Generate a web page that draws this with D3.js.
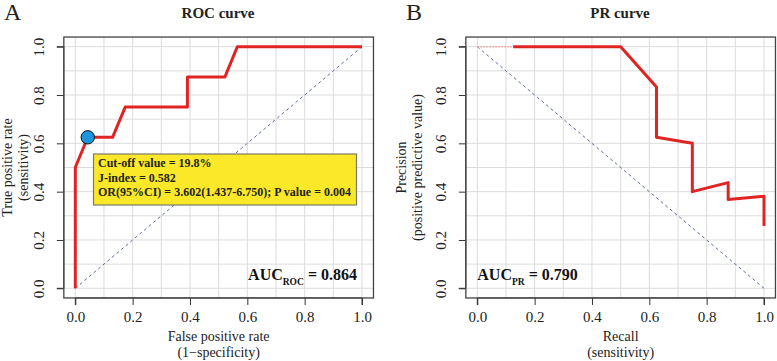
<!DOCTYPE html>
<html><head><meta charset="utf-8">
<script src="https://cdn.jsdelivr.net/npm/d3@7"></script>
<style>
body{margin:0;background:#fff;}
text{font-family:"Liberation Serif","Times New Roman",serif;}
</style></head>
<body><svg id="c" width="777" height="361"></svg>
<script>
// ROC curve data
const rocFPR = [0, 0, 0.0435, 0.130, 0.174, 0.391, 0.391, 0.522, 0.565, 1.0];
const rocTPR = [0, 0.5, 0.625, 0.625, 0.75, 0.75, 0.875, 0.875, 1.0, 1.0];
const cutoffPoint = [0.0435, 0.625];
const cutoffLines = ["Cut-off value = 19.8%", "J-index = 0.582", "OR(95%CI) = 3.602(1.437-6.750); P value = 0.004"];
// PR curve data
const prRecall = [0.125, 0.5, 0.625, 0.625, 0.75, 0.75, 0.875, 0.875, 1.0, 1.0];
const prPrecision = [1.0, 1.0, 0.833, 0.625, 0.6, 0.4, 0.4375, 0.368, 0.381, 0.258];
const axisTicks = [0, 0.2, 0.4, 0.6, 0.8, 1.0];
const gridTicks = [0,0.1,0.2,0.3,0.4,0.5,0.6,0.7,0.8,0.9,1.0];
const aucROC = "0.864", aucPR = "0.790";

const svg = d3.select("#c");
const RED = "#e02424", DIAG = "#5b6c9c";

function panel(ox, opts){
  const x = d3.scaleLinear().domain([0,1]).range([ox+75.3, ox+362]);
  const y = d3.scaleLinear().domain([0,1]).range([288.3, 46.7]);
  const g = svg.append("g");
  const x0 = x(-0.04), x1 = x(1.04), y0 = y(-0.04), y1 = y(1.04);
  // grid
  g.selectAll(".gv").data(gridTicks).enter().append("line")
    .attr("x1", d=>x(d)).attr("x2", d=>x(d)).attr("y1", y0).attr("y2", y1)
    .attr("stroke", "#dcdcdc").attr("stroke-width", 1);
  g.selectAll(".gh").data(gridTicks).enter().append("line")
    .attr("y1", d=>y(d)).attr("y2", d=>y(d)).attr("x1", x0).attr("x2", x1)
    .attr("stroke", "#dcdcdc").attr("stroke-width", 1);
  // axes
  const xa = d3.axisBottom(x).tickValues(axisTicks).tickFormat(d3.format(".1f")).tickSize(7).tickPadding(6);
  const xg = g.append("g").attr("transform", `translate(0,${y0})`).call(xa);
  xg.select(".domain").attr("d", `M${x(0)},7V0H${x(1)}V7`).attr("stroke","#333");
  xg.selectAll(".tick line").attr("stroke","#333");
  xg.selectAll("text").attr("font-size", 15).attr("fill","#222").attr("font-family","Liberation Serif");
  const ya = d3.axisLeft(y).tickValues(axisTicks).tickFormat(d3.format(".1f")).tickSize(7).tickPadding(0);
  const yg = g.append("g").attr("transform", `translate(${x0},0)`).call(ya);
  yg.select(".domain").attr("d", `M-7,${y(0)}H0V${y(1)}H-7`).attr("stroke","#333");
  yg.selectAll(".tick line").attr("stroke","#333");
  yg.selectAll(".tick text").attr("font-size", 15).attr("fill","#222").attr("font-family","Liberation Serif")
    .attr("text-anchor","middle").attr("x", 0).attr("dy","0.35em")
    .attr("transform", `translate(${ox+39 - x0},0) rotate(-90)`);
  // box
  g.append("rect").attr("x", x0).attr("y", y1).attr("width", x1-x0).attr("height", y0-y1)
    .attr("fill","none").attr("stroke","#444").attr("stroke-width",1.3);
  // titles
  svg.append("text").attr("x", ox+218).attr("y", 18).attr("text-anchor","middle")
    .attr("font-weight","bold").attr("font-size",15).attr("fill","#222").text(opts.title);
  svg.append("text").attr("x", ox+4).attr("y", 20).attr("font-size",24).attr("fill","#222").text(opts.letter);
  svg.append("text").attr("x", (x(0)+x(1))/2).attr("y", 341).attr("text-anchor","middle")
    .attr("font-size",14).attr("fill","#222").text(opts.xlab1);
  svg.append("text").attr("x", (x(0)+x(1))/2).attr("y", 357).attr("text-anchor","middle")
    .attr("font-size",14).attr("fill","#222").text(opts.xlab2);
  const cy = (y(0)+y(1))/2;
  svg.append("text").attr("transform", `translate(${ox+opts.ylx1},${cy}) rotate(-90)`).attr("text-anchor","middle")
    .attr("font-size",14).attr("fill","#222").text(opts.ylab1);
  svg.append("text").attr("transform", `translate(${ox+opts.ylx2},${cy}) rotate(-90)`).attr("text-anchor","middle")
    .attr("font-size",14).attr("fill","#222").text(opts.ylab2);
  return {x, y, g};
}

// Panel A
const A = panel(0, {title:"ROC curve", letter:"A", xlab1:"False positive rate", xlab2:"(1\u2212specificity)",
  ylab1:"True positive rate", ylab2:"(sensitivity)", ylx1:12, ylx2:28});
A.g.append("line").attr("x1",A.x(0)).attr("y1",A.y(0)).attr("x2",A.x(1)).attr("y2",A.y(1))
  .attr("stroke",DIAG).attr("stroke-width",1).attr("stroke-dasharray","3,3");
A.g.append("path").datum(rocFPR.map((d,i)=>[d,rocTPR[i]]))
  .attr("d", d3.line().x(d=>A.x(d[0])).y(d=>A.y(d[1])))
  .attr("fill","none").attr("stroke",RED).attr("stroke-width",3).attr("stroke-linejoin","round");
A.g.append("circle").attr("cx",A.x(cutoffPoint[0])).attr("cy",A.y(cutoffPoint[1])).attr("r",6.7)
  .attr("fill","#1b95dc").attr("stroke","#111").attr("stroke-width",1);
A.g.append("rect").attr("x",93.5).attr("y",154).attr("width",263).attr("height",51)
  .attr("fill","#fbe829").attr("stroke","#7a7a6a").attr("stroke-width",1.2);
cutoffLines.forEach((t,i)=>{
  A.g.append("text").attr("x",98).attr("y",167+i*14.5).attr("font-size",12).attr("font-weight","bold")
    .attr("fill","#222").text(t);
});
function auc(g, xpos, label, val, anchor){
  const t = g.append("text").attr("x",xpos).attr("y",280).attr("font-weight","bold").attr("font-size",16)
    .attr("fill","#111").attr("text-anchor",anchor);
  t.append("tspan").text("AUC");
  t.append("tspan").attr("font-size",9.5).attr("dy",4.5).text(label);
  t.append("tspan").attr("dy",-4.5).text(" = " + val);
}
auc(A.g, 357, "ROC", aucROC, "end");

// Panel B
const B = panel(402, {title:"PR curve", letter:"B", xlab1:"Recall", xlab2:"(sensitivity)",
  ylab1:"Precision", ylab2:"(positive predictive value)", ylx1:4, ylx2:20});
B.g.append("line").attr("x1",B.x(0)).attr("y1",B.y(1)).attr("x2",B.x(1)).attr("y2",B.y(0))
  .attr("stroke",DIAG).attr("stroke-width",1).attr("stroke-dasharray","3,3");
B.g.append("line").attr("x1",B.x(0)).attr("y1",B.y(1)).attr("x2",B.x(prRecall[0])).attr("y2",B.y(1))
  .attr("stroke","#f4a0a0").attr("stroke-width",1.5).attr("stroke-dasharray","1.5,1.5");
B.g.append("path").datum(prRecall.map((d,i)=>[d,prPrecision[i]]))
  .attr("d", d3.line().x(d=>B.x(d[0])).y(d=>B.y(d[1])))
  .attr("fill","none").attr("stroke",RED).attr("stroke-width",3).attr("stroke-linejoin","round");
auc(B.g, B.x(0), "PR", aucPR, "start");
</script></body></html>
